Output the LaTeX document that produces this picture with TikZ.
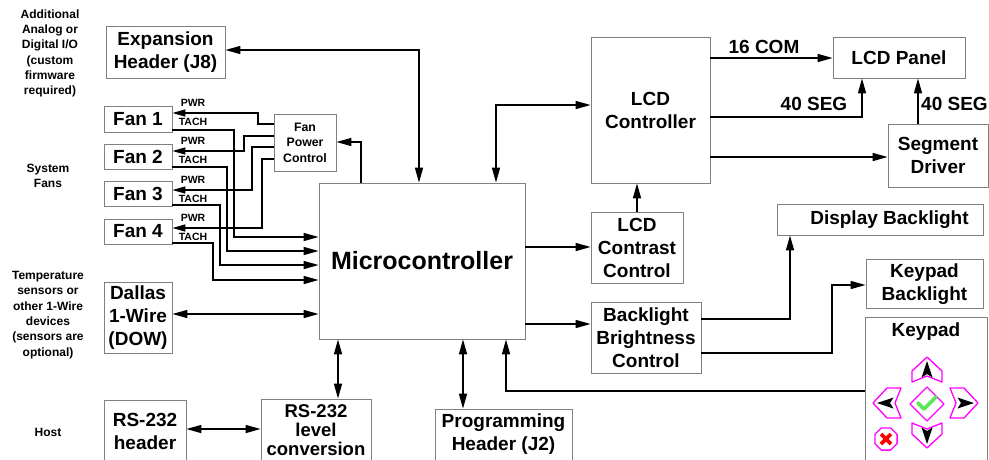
\documentclass[tikz,border=0pt]{standalone}
\usepackage{fontspec}
\setmainfont{Liberation Sans}
\usetikzlibrary{arrows.meta}
\definecolor{boxgray}{HTML}{808080}
\definecolor{keymag}{HTML}{FF00FF}
\definecolor{checkgreen}{HTML}{5CE65C}
\definecolor{xred}{HTML}{FF0000}
\tikzset{
  box/.style={draw=boxgray, line width=0.8pt, fill=white, inner sep=0pt, align=center,
    font=\fontsize{19}{23}\selectfont\bfseries},
  side/.style={align=center, inner sep=0pt, font=\fontsize{12}{15.3}\selectfont\bfseries},
  sig/.style={inner sep=0pt, font=\fontsize{10.5}{12}\selectfont\bfseries},
  lbl/.style={inner sep=0pt, font=\fontsize{19}{23}\selectfont\bfseries},
  conn/.style={line width=1.5pt, draw=black},
  >={Triangle[length=15pt,width=8pt]},
  small/.style={>={Triangle[length=13pt,width=7pt]}},
  btn/.style={draw=keymag, line width=1.3pt, fill=white, line join=round},
  btnarrow/.style={fill=black},
}
\begin{document}
\begin{tikzpicture}[x=1pt,y=-1pt]
\useasboundingbox (0,0) rectangle (989,459);
\fill[white] (0,0) rectangle (989,459);
\clip (0,0) rectangle (989,459);

% side labels
\node[side] (addl) at (50,53.5) {Additional\\Analog or\\Digital I/O\\(custom\\firmware\\required)};
\node[side] (sysfans) at (48,176) {System\\Fans};
\node[side] (temp) at (48,315) {Temperature\\sensors or\\other 1-Wire\\devices\\(sensors are\\optional)};
\node[side] (host) at (48,432) {Host};

% boxes
\node[box, minimum width=119pt, minimum height=52pt] (exp) at (165.5,52) {Expansion\\Header (J8)};
\node[box, minimum width=68pt, minimum height=26pt] (fan1) at (138,119) {Fan 1};
\node[box, minimum width=68pt, minimum height=25pt] (fan2) at (138,156.5) {Fan 2};
\node[box, minimum width=68pt, minimum height=25pt] (fan3) at (138,193.5) {Fan 3};
\node[box, minimum width=68pt, minimum height=25pt] (fan4) at (138,231.5) {Fan 4};
\node[box, minimum width=62pt, minimum height=57pt, font=\fontsize{12.3}{15.5}\selectfont\bfseries] (fpc) at (305,142.5) {Fan\\Power\\Control};
\node[box, minimum width=206pt, minimum height=156pt, font=\fontsize{25}{30}\selectfont\bfseries] (micro) at (422,261) {Microcontroller};
\node[box, minimum width=68pt, minimum height=71pt] (dallas) at (138,318) {Dallas\\1-Wire\\(DOW)};
\node[box, minimum width=82pt, minimum height=62pt] (rshdr) at (145,431) {RS-232\\header};
\node[box, minimum width=110pt, minimum height=68pt, font=\fontsize{18.5}{19}\selectfont\bfseries] (rslvl) at (316,433) {\raisebox{5pt}{\begin{tabular}{@{}c@{}}RS-232\\level\\conversion\end{tabular}}};
\node[box, minimum width=137pt, minimum height=51pt] (proghdr) at (503.5,434.5) {Programming\\Header (J2)};
\node[box, minimum width=119pt, minimum height=146pt] (lcdc) at (650.5,110) {LCD\\Controller};
\node[box, minimum width=132pt, minimum height=41pt] (lcdp) at (899,57.5) {LCD Panel};
\node[box, minimum width=100pt, minimum height=63pt] (segd) at (938,155.5) {Segment\\Driver};
\node[box, minimum width=92pt, minimum height=71pt] (contrast) at (637,247.5) {LCD\\Contrast\\Control};
\node[box, minimum width=110pt, minimum height=71pt] (bbc) at (646,337.5) {Backlight\\Brightness\\Control};
\node[box, minimum width=206pt, minimum height=31pt] (dispbl) at (880,219.5) {\hspace*{19pt}Display Backlight};
\node[box, minimum width=117pt, minimum height=49pt] (kpbl) at (924.5,284) {Keypad\\Backlight};
\node[box, minimum width=122pt, minimum height=153pt] (keypad) at (926,393.5) {};
\node[lbl] (kptitle) at (926,332) {Keypad};

% fan PWR lines
\draw[conn,small,->] (fpc.west |- 0,124) -| (258,113) -- (fan1.east |- 0,113);
\draw[conn,small,->] (fpc.west |- 0,136) -| (244,151) -- (fan2.east |- 0,151);
\draw[conn,small,->] (fpc.west |- 0,147) -| (252,190) -- (fan3.east |- 0,190);
\draw[conn,small,->] (fpc.west |- 0,159) -| (262,228) -- (fan4.east |- 0,228);
% fan TACH lines
\draw[conn,->] (fan1.east |- 0,130) -| (234,237) -- (micro.west |- 0,237);
\draw[conn,->] (fan2.east |- 0,167) -| (227,251) -- (micro.west |- 0,251);
\draw[conn,->] (fan3.east |- 0,205) -| (220,265) -- (micro.west |- 0,265);
\draw[conn,->] (fan4.east |- 0,243) -| (213,280) -- (micro.west |- 0,280);
% PWR / TACH labels
\node[sig] (pwr1) at (193,103) {PWR};
\node[sig] (tach1) at (193,122) {TACH};
\node[sig] (pwr2) at (193,141) {PWR};
\node[sig] (tach2) at (193,160) {TACH};
\node[sig] (pwr3) at (193,180) {PWR};
\node[sig] (tach3) at (193,199) {TACH};
\node[sig] (pwr4) at (193,218) {PWR};
\node[sig] (tach4) at (193,237) {TACH};

% micro connections
\draw[conn,->] (micro.north -| 361,0) |- (fpc.east |- 0,142);
\draw[conn,<->] (exp.east |- 0,50) -| (micro.north -| 419,0);
\draw[conn,<->] (micro.north -| 496,0) |- (lcdc.west |- 0,105);
\draw[conn,->] (micro.east |- 0,247) -- (contrast.west |- 0,247);
\draw[conn,->] (contrast.north) -- (contrast.north |- lcdc.south);
\draw[conn,->] (micro.east |- 0,324) -- (bbc.west |- 0,324);
\draw[conn,->] (bbc.east |- 0,319) -| (dispbl.south -| 790,0);
\draw[conn,->] (bbc.east |- 0,353) -| (832,285) -- (kpbl.west |- 0,285);
\draw[conn,->] (keypad.west |- 0,391) -| (micro.south -| 506,0);
\draw[conn,<->] (micro.south -| 338,0) -- (rslvl.north -| 338,0);
\draw[conn,<->] (rshdr.east |- 0,429) -- (rslvl.west |- 0,429);
\draw[conn,<->] (micro.south -| 463,0) -- (proghdr.north -| 463,0);
\draw[conn,<->] (dallas.east |- 0,314) -- (micro.west |- 0,314);

% LCD
\draw[conn,->] (lcdc.east |- 0,58) -- (lcdp.west |- 0,58);
\draw[conn,->] (lcdc.east |- 0,117) -| (lcdp.south -| 862,0);
\draw[conn,->] (segd.north -| 918,0) -- (lcdp.south -| 918,0);
\draw[conn,->] (lcdc.east |- 0,157) -- (segd.west |- 0,157);
\node[lbl] (com16) at (764,47) {16 COM};
\node[lbl] (seg40a) at (814,104) {40 SEG};
\node[lbl, anchor=west] (seg40b) at (921,104) {40 SEG};

% keypad buttons
\draw[btn] (927,357) -- (942,371) -- (942,382) -- (927,376) -- (912,382) -- (912,371) -- cycle;
\fill[btnarrow] (927,361) -- (932.5,377.5) -- (927,374) -- (921.5,377.5) -- cycle;
\draw[btn] (927,448) -- (942,434) -- (942,423) -- (927,429) -- (912,423) -- (912,434) -- cycle;
\fill[btnarrow] (927,444) -- (932.5,427.5) -- (927,431) -- (921.5,427.5) -- cycle;
\draw[btn] (873,403) -- (887,388) -- (901,388) -- (895,403) -- (901,418) -- (887,418) -- cycle;
\fill[btnarrow] (877,403) -- (893.5,397.5) -- (890,403) -- (893.5,408.5) -- cycle;
\draw[btn] (978,403) -- (964,388) -- (950,388) -- (956,403) -- (950,418) -- (964,418) -- cycle;
\fill[btnarrow] (974,403) -- (957.5,397.5) -- (961,403) -- (957.5,408.5) -- cycle;
\draw[btn] (927,387) -- (944,404) -- (927,421) -- (910,404) -- cycle;
\draw[checkgreen, line width=3.6pt, line cap=round, line join=round] (918,403) -- (924,409) -- (936,397);
\draw[btn] (897.1,434.4) -- (890.6,427.9) -- (881.4,427.9) -- (874.9,434.4) -- (874.9,443.6) -- (881.4,450.1) -- (890.6,450.1) -- (897.1,443.6) -- cycle;
\draw[xred, line width=3.6pt] (881,434) -- (891,444) (891,434) -- (881,444);
\end{tikzpicture}
\end{document}
